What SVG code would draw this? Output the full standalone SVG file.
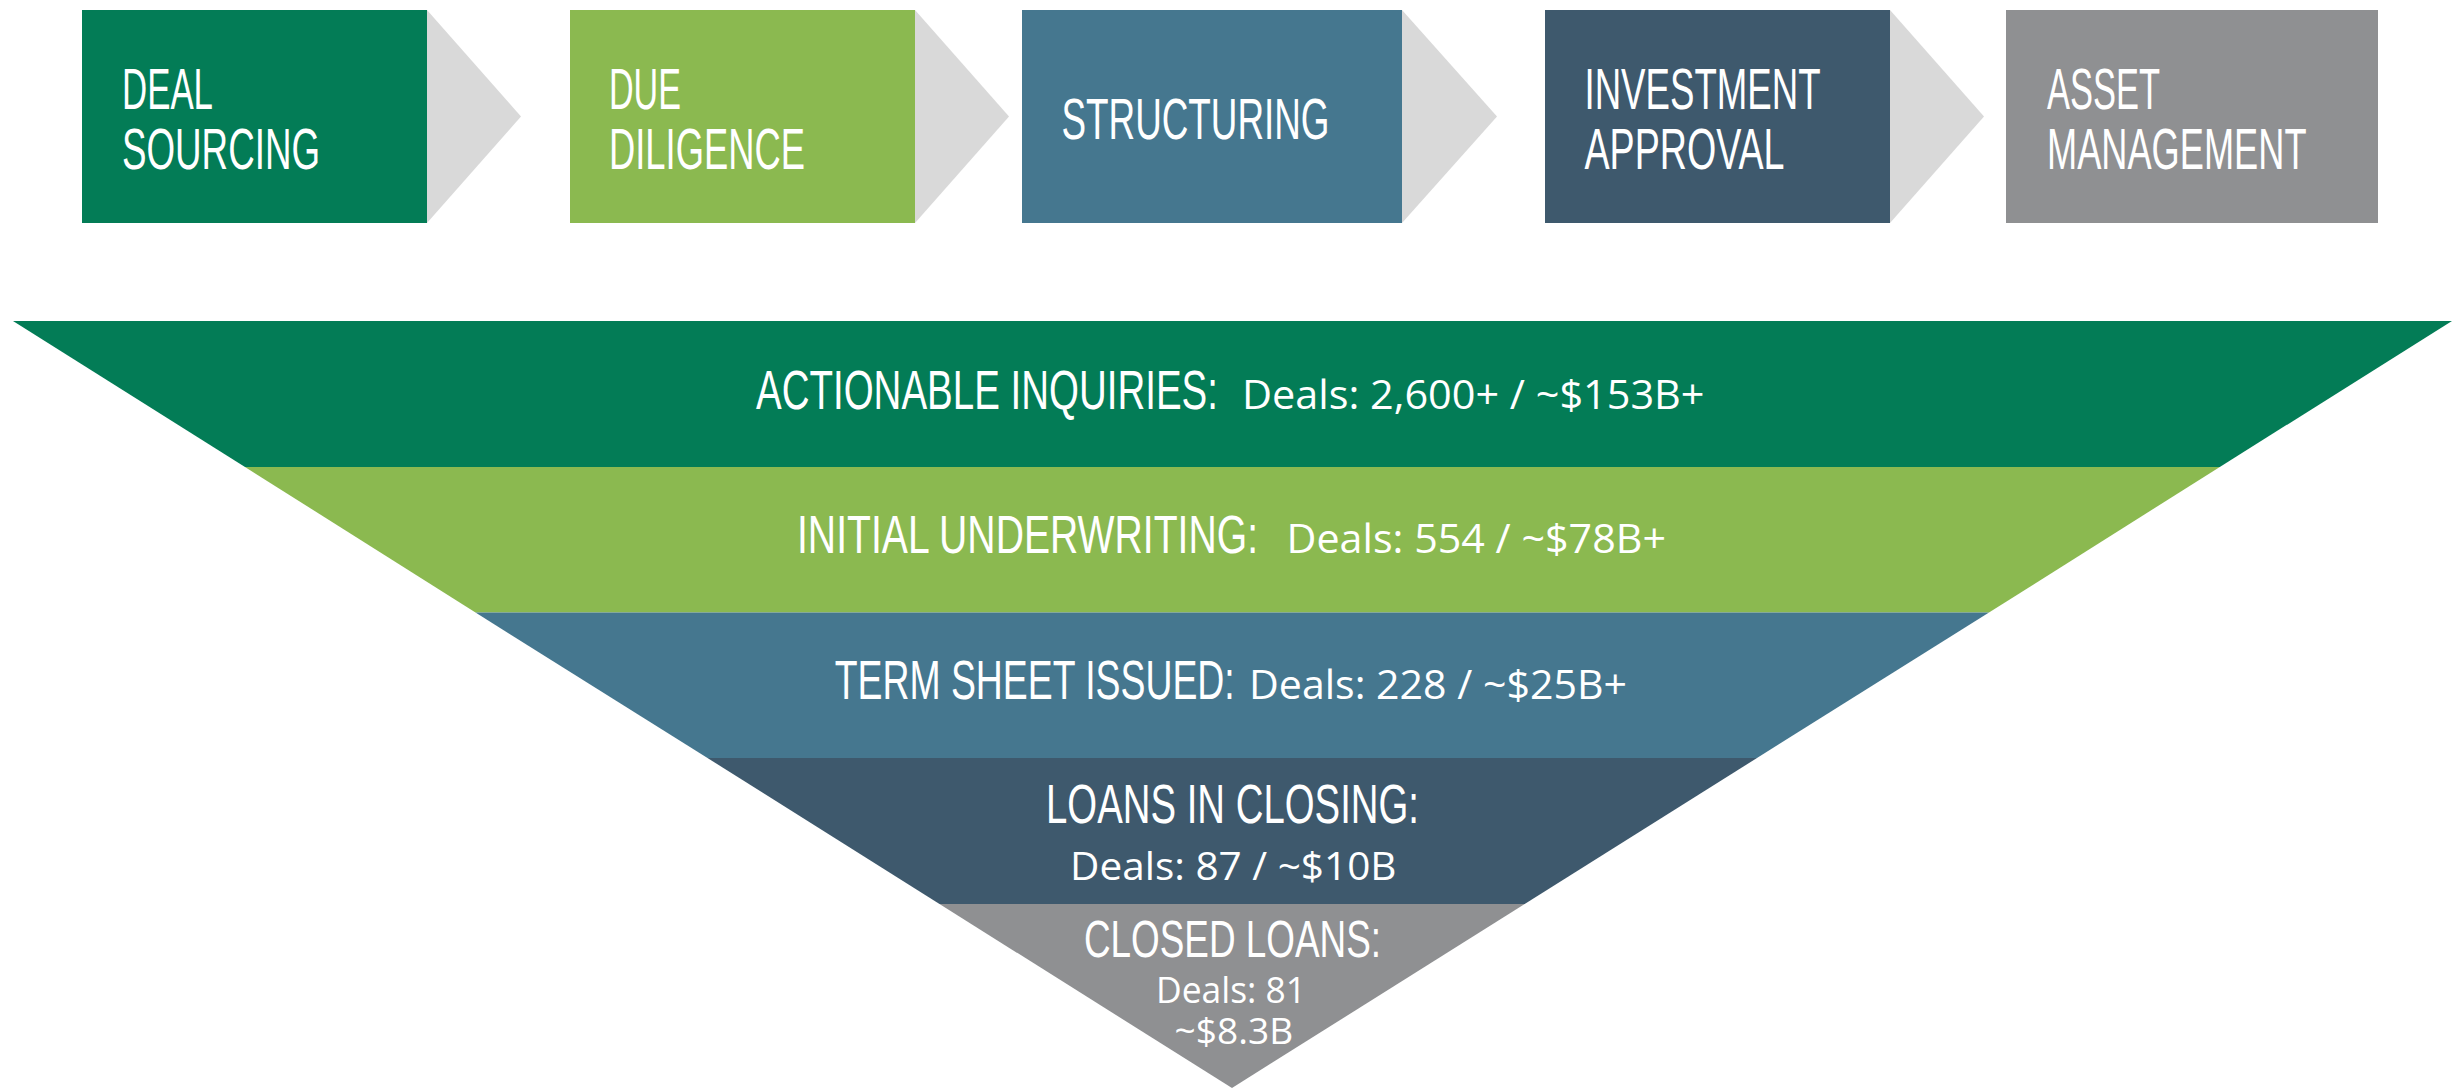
<svg xmlns="http://www.w3.org/2000/svg" width="2453" height="1089" viewBox="0 0 2453 1089">
<style>
.cond{font-family:"Liberation Sans",Arial,sans-serif;fill:#ffffff;}
.reg{font-family:"Open Sans","Liberation Sans",sans-serif;fill:#ffffff;}
.arrow{fill:#d9d9d9;}
.c1{fill:#037c56;}
.c2{fill:#8bb950;}
.c3{fill:#45778f;}
.c4{fill:#3e596d;}
.c5{fill:#8f9092;}
</style>
<rect x="0" y="0" width="2453" height="1089" fill="#ffffff"/>
<g id="connectors">
<polygon class="arrow" points="427,10 521,116.5 427,223"/>
<polygon class="arrow" points="915,10 1009,116.5 915,223"/>
<polygon class="arrow" points="1402,10 1497,116.5 1402,223"/>
<polygon class="arrow" points="1890,10 1984,116.5 1890,223"/>
</g>
<g id="deal-sourcing">
<rect class="c1" x="82" y="10" width="345" height="213"/>
<text class="cond" x="122" y="109" font-size="57" textLength="91" lengthAdjust="spacingAndGlyphs">DEAL</text>
<text class="cond" x="122" y="169" font-size="57" textLength="198" lengthAdjust="spacingAndGlyphs">SOURCING</text>
</g>
<g id="due-diligence">
<rect class="c2" x="570" y="10" width="345" height="213"/>
<text class="cond" x="609" y="109" font-size="57" textLength="72" lengthAdjust="spacingAndGlyphs">DUE</text>
<text class="cond" x="609" y="169" font-size="57" textLength="196" lengthAdjust="spacingAndGlyphs">DILIGENCE</text>
</g>
<g id="structuring">
<rect class="c3" x="1022" y="10" width="380" height="213"/>
<text class="cond" x="1061.5" y="139" font-size="57" textLength="268" lengthAdjust="spacingAndGlyphs">STRUCTURING</text>
</g>
<g id="investment-approval">
<rect class="c4" x="1545" y="10" width="345" height="213"/>
<text class="cond" x="1584.5" y="109" font-size="57" textLength="236" lengthAdjust="spacingAndGlyphs">INVESTMENT</text>
<text class="cond" x="1584.5" y="169" font-size="57" textLength="200" lengthAdjust="spacingAndGlyphs">APPROVAL</text>
</g>
<g id="asset-management">
<rect class="c5" x="2006" y="10" width="372" height="213"/>
<text class="cond" x="2047" y="109" font-size="57" textLength="113" lengthAdjust="spacingAndGlyphs">ASSET</text>
<text class="cond" x="2047" y="169" font-size="57" textLength="259.5" lengthAdjust="spacingAndGlyphs">MANAGEMENT</text>
</g>
<g id="actionable-inquiries">
<polygon class="c1" points="13,321 2452,321 2219.8,467 245,467"/>
<text class="cond" transform="translate(756,409) scale(0.7,1)" x="0" y="0" font-size="55" textLength="660" lengthAdjust="spacingAndGlyphs">ACTIONABLE INQUIRIES:</text>
<text class="reg" x="1242" y="409" font-size="41" textLength="462.5" lengthAdjust="spacingAndGlyphs">Deals: 2,600+ / ~$153B+</text>
</g>
<g id="initial-underwriting">
<polygon class="c2" points="245,467 2219.8,467 1989,612.5 475.5,612.5"/>
<text class="cond" transform="translate(797,553) scale(0.72,1)" x="0" y="0" font-size="54" textLength="640.3" lengthAdjust="spacingAndGlyphs">INITIAL UNDERWRITING:</text>
<text class="reg" x="1286.5" y="553" font-size="41" textLength="379.5" lengthAdjust="spacingAndGlyphs">Deals: 554 / ~$78B+</text>
</g>
<g id="term-sheet-issued">
<polygon class="c3" points="475.5,612.5 1989,612.5 1757,758 707.5,758"/>
<text class="cond" transform="translate(834.7,699) scale(0.68,1)" x="0" y="0" font-size="55" textLength="588.2" lengthAdjust="spacingAndGlyphs">TERM SHEET ISSUED:</text>
<text class="reg" x="1249" y="699" font-size="41" textLength="378" lengthAdjust="spacingAndGlyphs">Deals: 228 / ~$25B+</text>
</g>
<g id="loans-in-closing">
<polygon class="c4" points="707.5,758 1757,758 1524.7,904 939.5,904"/>
<text class="cond" x="1046" y="823" font-size="56" textLength="373" lengthAdjust="spacingAndGlyphs">LOANS IN CLOSING:</text>
<text class="reg" x="1070" y="880" font-size="39" textLength="326.5" lengthAdjust="spacingAndGlyphs">Deals: 87 / ~$10B</text>
</g>
<g id="closed-loans">
<polygon class="c5" points="939.5,904 1524.7,904 1232,1088"/>
<text class="cond" x="1084" y="957" font-size="51" textLength="297" lengthAdjust="spacingAndGlyphs">CLOSED LOANS:</text>
<text class="reg" font-size="37"><tspan x="1156" y="1003" textLength="150" lengthAdjust="spacingAndGlyphs">Deals: 81</tspan><tspan x="1174.6" y="1044" textLength="118.5" lengthAdjust="spacingAndGlyphs">~$8.3B</tspan></text>
</g>
</svg>
